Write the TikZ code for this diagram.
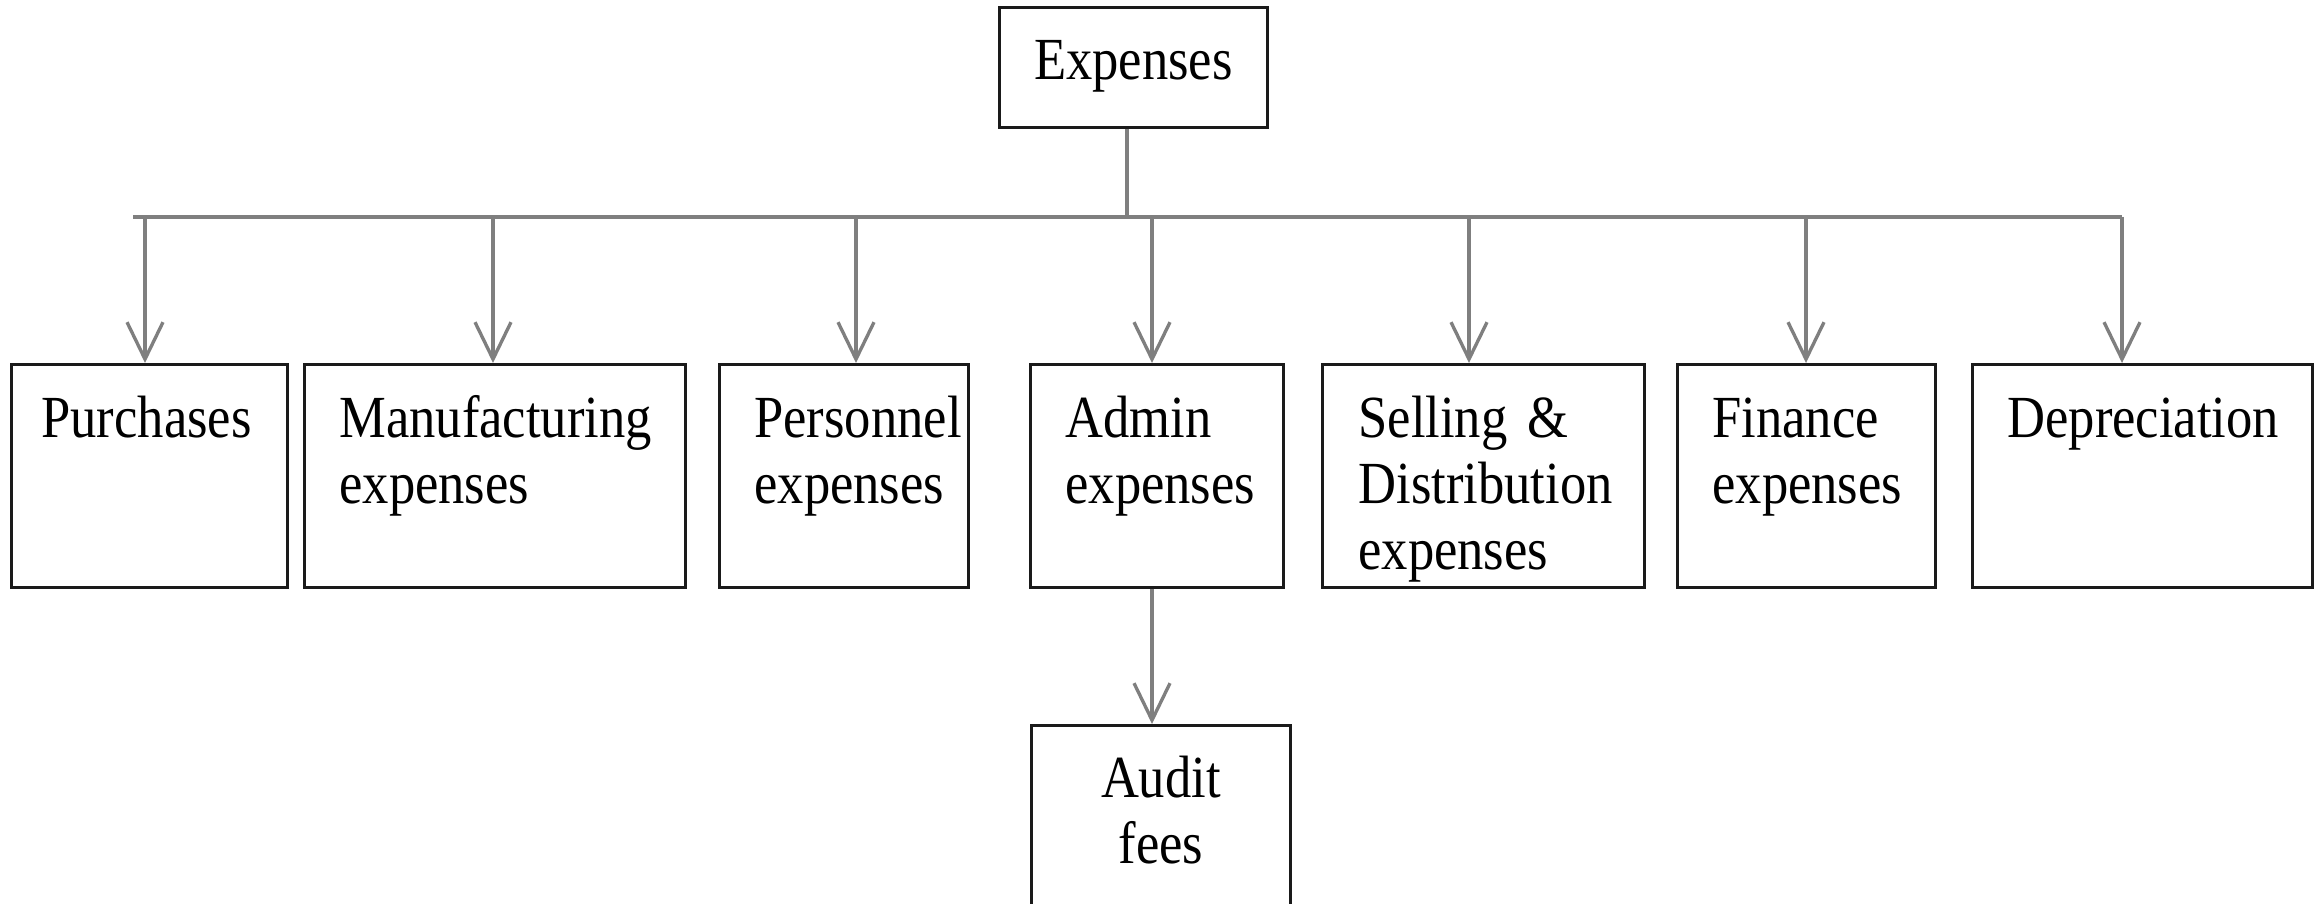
\documentclass[tikz,border=0pt]{standalone}
\usepackage{fontspec}
\setmainfont{Liberation Serif}[FakeStretch=0.88]
\usetikzlibrary{arrows.meta}

\definecolor{gris}{HTML}{7F7F7F}
\definecolor{borde}{HTML}{1A1A1A}

\tikzset{
	caja/.style={draw=borde, line width=0.8pt, rectangle, anchor=north west,
		inner xsep=0.35cm, inner ysep=0pt, align=left,
		text height=0.73cm, text depth=1.50cm,
		font=\fontsize{17}{18.8}\selectfont},
	linea/.style={draw=gris, line width=0.95pt},
	flecha/.style={linea, -{Straight Barb[length=0.37cm, width=0.36cm]}}
}

\begin{document}
\begin{tikzpicture}

	\useasboundingbox (0,0) rectangle (23.15,9.04);
	\clip (0,0) rectangle (23.15,9.04);

% Caja principal
	\node[caja, inner xsep=0pt, align=center, text width=2.68cm,
		text height=0.72cm, text depth=0.48cm] (gasto) at (9.98,8.98) {Expenses};

% Cajas de segundo nivel
	\foreach \n/\x/\s/\w/\t in {pur/0.10/0.30/2.16/Purchases,
			man/3.03/0.35/3.11/Manufacturing\\expenses,
			per/7.18/0.35/1.79/Personnel\\expenses,
			adm/10.29/0.35/1.83/Admin\\expenses,
			sel/13.21/0.36/2.50/Selling \&\\Distribution\\expenses,
			fin/16.76/0.35/1.88/Finance\\expenses,
			dep/19.71/0.35/2.70/Depreciation}
		\node[caja, inner xsep=\s cm, text width=\w cm] (\n) at (\x,5.41) {\t};

	\node[caja, inner xsep=0pt, align=center, text width=2.59cm,
		text height=0.72cm, text depth=1.51cm] (aud) at (10.30,1.80) {Audit\\fees};

% Conectores
	\coordinate (tallo) at (11.27,6.87);
	\coordinate (bus-ini) at (1.33,6.87);
	\foreach \n/\x in {pur/1.45, man/4.93, per/8.56, adm/11.52, sel/14.69, fin/18.06, dep/21.22}
		\coordinate (b-\n) at (\x,6.87);

	\draw[linea] (tallo |- gasto.south) -- (tallo);
	\draw[linea] (bus-ini) -- (b-dep);
	\foreach \n in {pur, man, per, adm, sel, fin, dep}
		\draw[flecha] (b-\n) -- (b-\n |- \n.north);

	\draw[flecha] (b-adm |- adm.south) -- (b-adm |- aud.north);

\end{tikzpicture}
\end{document}
